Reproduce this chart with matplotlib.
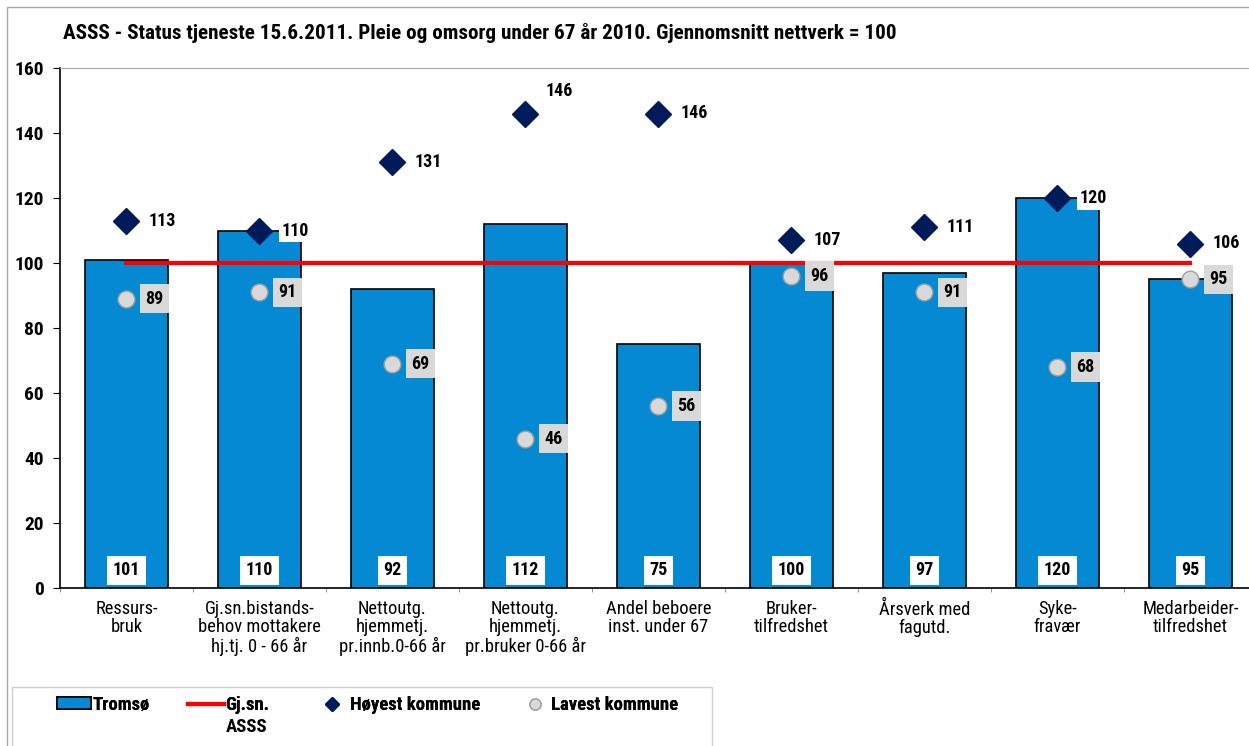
import numpy as np
import matplotlib
matplotlib.use('Agg')
import matplotlib.pyplot as plt
from matplotlib import font_manager
from matplotlib.patches import Rectangle
from matplotlib.lines import Line2D

categories = ['Ressurs-\nbruk', 'Gj.sn.bistands-\nbehov mottakere\nhj.tj. 0 - 66 år',
              'Nettoutg.\nhjemmetj.\npr.innb.0-66 år', 'Nettoutg.\nhjemmetj.\npr.bruker 0-66 år',
              'Andel beboere\ninst. under 67', 'Bruker-\ntilfredshet', 'Årsverk med\nfagutd.',
              'Syke-\nfravær', 'Medarbeider-\ntilfredshet']
tromso = [101, 110, 92, 112, 75, 100, 97, 120, 95]
snitt = [100, 100, 100, 100, 100, 100, 100, 100, 100]
hoyest = [113, 110, 131, 146, 146, 107, 111, 120, 106]
lavest = [89, 91, 69, 46, 56, 96, 91, 68, 95]
yticks = [0, 20, 40, 60, 80, 100, 120, 140, 160]

# pick a narrow font if one is installed
fonts = font_manager.fontManager.ttflist
names = {f.name for f in fonts}
stretch = 'normal'
if 'Liberation Sans Narrow' in names:
    fam = 'Liberation Sans Narrow'
elif 'Roboto Condensed' in names:
    fam = 'Roboto Condensed'
elif any(f.name == 'Noto Sans' and 'condensed' in str(f.stretch) for f in fonts):
    fam, stretch = 'Noto Sans', 'condensed'
elif any(f.name == 'DejaVu Sans' and 'condensed' in str(f.stretch) for f in fonts):
    fam, stretch = 'DejaVu Sans', 'condensed'
else:
    fam = 'Liberation Sans'
plt.rcParams['font.family'] = [fam, 'DejaVu Sans']
plt.rcParams['font.stretch'] = stretch
plt.rcParams['font.weight'] = 'bold'

fig = plt.figure(figsize=(12.49, 7.46), dpi=100)
W, H = 1249, 746

# outer frame and legend frame
fig.patches.append(Rectangle((7/W, -0.1), 1.2, 1 - 7/H + 0.1, transform=fig.transFigure,
                             fill=False, edgecolor='#a6a6a6', lw=1))
fig.patches.append(Rectangle((12/W, -0.1), 700/W, (746-687)/H + 0.1, transform=fig.transFigure,
                             fill=False, edgecolor='#d0d0d0', lw=1))

ax = fig.add_axes([60/W, 1 - 588/H, 1197/W, 520/H])
x = np.arange(len(categories))

ax.bar(x, tromso, width=0.63, color='#0589d3', edgecolor='black', linewidth=1.2, zorder=2)
ax.plot(x, snitt, color='#ff0000', linewidth=3, zorder=3)
ax.plot(x, hoyest, linestyle='none', marker='D', markersize=13, color='#001a5a', zorder=4)
ax.plot(x, lavest, linestyle='none', marker='o', markersize=12, markerfacecolor='#d9d9d9',
        markeredgecolor='#a0a0a0', markeredgewidth=1, zorder=4)

fs = 13
for i, v in enumerate(tromso):
    ax.text(x[i], 5.5, str(v), ha='center', va='center', fontsize=fs, zorder=5,
            bbox=dict(facecolor='white', edgecolor='none', pad=4))
for i, v in enumerate(hoyest):
    off = (20, 23) if i == 3 else (22, 0)
    ax.annotate(str(v), (x[i], v), xytext=off, textcoords='offset pixels',
                ha='left', va='center', fontsize=fs, zorder=5,
                bbox=dict(facecolor='white', edgecolor='none', pad=2))
for i, v in enumerate(lavest):
    ax.annotate(str(v), (x[i], v), xytext=(19, 0), textcoords='offset pixels',
                ha='left', va='center', fontsize=fs, zorder=5,
                bbox=dict(facecolor='#d9d9d9', edgecolor='none', pad=4))

ax.set_xlim(-0.5, len(categories) - 0.5)
ax.set_ylim(0, 160)
ax.set_yticks(yticks)
ax.set_yticklabels([str(t) for t in yticks], fontsize=14)
ax.set_xticks(x)
ax.set_xticklabels(categories, fontsize=13.3, fontweight='normal', linespacing=1.0, va='top')
ax.tick_params(axis='x', length=0, pad=9)
ax.set_xticks(np.arange(len(categories) + 1) - 0.5, minor=True)
ax.tick_params(axis='x', which='minor', length=3, color='#808080')
ax.tick_params(axis='y', length=5, pad=6.5)
ax.spines['top'].set_color('#a6a6a6')
ax.spines['right'].set_visible(False)
ax.spines['left'].set_linewidth(1.2)
ax.spines['bottom'].set_linewidth(1.2)

fig.text(63/W, 1 - 33/H, 'ASSS - Status tjeneste 15.6.2011. Pleie og omsorg under 67 år 2010. Gjennomsnitt nettverk = 100',
         ha='left', va='center', fontsize=15.2)

# legend, one entry at a time so each sits where the reference has it
lfs = 13.5
entries = [
    (Rectangle((0, 0), 1, 1, facecolor='#0589d3', edgecolor='black', lw=1.2), 'Tromsø', 57, 1.8, 0.1),
    (Line2D([0], [0], color='#ff0000', lw=3), 'Gj.sn.', 188, 1.9, 0.1),
    (Line2D([0], [0], linestyle='none', marker='D', markersize=7, color='#001a5a'), 'Høyest kommune', 322, 1.05, 0.45),
    (Line2D([0], [0], linestyle='none', marker='o', markersize=8, markerfacecolor='#d9d9d9',
            markeredgecolor='#a0a0a0'), 'Lavest kommune', 525, 1.05, 0.35),
]
for h, lab, x0, hl, tp in entries:
    leg = fig.legend([h], [lab], loc='upper left', bbox_to_anchor=(x0/W, 1 - 696/H),
                     frameon=False, fontsize=lfs, handlelength=hl, handleheight=0.6,
                     handletextpad=tp, borderaxespad=0, borderpad=0)
    fig.add_artist(leg)
fig.text(226/W, 1 - 727/H, 'ASSS', ha='left', va='center', fontsize=lfs)

fig.savefig('out.png', dpi=100)
